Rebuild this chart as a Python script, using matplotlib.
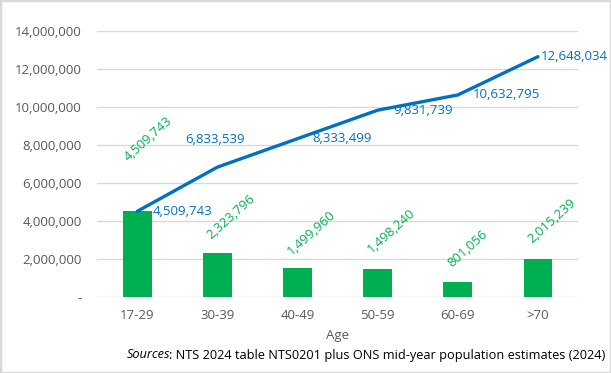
import matplotlib
matplotlib.use("Agg")
import matplotlib.pyplot as plt
from matplotlib.patches import Rectangle
from matplotlib.ticker import FuncFormatter

categories = ["17-29", "30-39", "40-49", "50-59", "60-69", ">70"]
bar_values = [4509743, 2323796, 1499960, 1498240, 801056, 2015239]
line_values = [4509743, 6833539, 8333499, 9831739, 10632795, 12648034]
y_ticks = [0, 2000000, 4000000, 6000000, 8000000, 10000000, 12000000, 14000000]

GREEN = "#00B050"
BLUE = "#0070C0"
GRAY = "#595959"
FONT = "Open Sans"
FS = 9.5

plt.rcParams["font.family"] = [FONT, "DejaVu Sans"]

fig = plt.figure(figsize=(6.11, 3.73), dpi=100)
ax = fig.add_axes([0.159, 0.2038, 0.787, 0.7131])

x = list(range(len(categories)))
ax.bar(x, bar_values, width=0.36, color=GREEN, zorder=2)
ax.plot(x, line_values, color=BLUE, lw=2.4, zorder=3, solid_capstyle="round", solid_joinstyle="round")

ax.set_xlim(-0.5, len(categories) - 0.5)
ax.set_ylim(0, 14000000)
ax.set_yticks(y_ticks)
ax.yaxis.set_major_formatter(FuncFormatter(lambda v, p: "-" if v == 0 else f"{int(v):,}"))
ax.set_xticks(x)
ax.set_xticklabels(categories)
ax.grid(axis="y", color="#d9d9d9", lw=1, zorder=0)
for s in ax.spines.values():
    s.set_visible(False)
ax.tick_params(axis="both", length=0, colors=GRAY, labelsize=FS)
ax.tick_params(axis="y", pad=11)
ax.tick_params(axis="x", pad=9)
ax.set_xlabel("Age", color=GRAY, fontsize=FS, labelpad=5)

# line labels (offsets in points)
line_offsets = [(11, 0), (-2, 20), (11, 0), (11, 0), (11, 0), (2, 0)]
for i, v in enumerate(line_values):
    dx, dy = line_offsets[i]
    ha = "center" if i == 1 else "left"
    ax.annotate(f"{v:,}", (i, v), xytext=(dx, dy), textcoords="offset points",
                ha=ha, va="center", color=BLUE, fontsize=FS, zorder=4)

# bar labels rotated
bar_offsets = [(-5, 34), (-3, 8), (-3, 8), (-3, 9), (-3, 9), (-3, 9)]
for i, v in enumerate(bar_values):
    dx, dy = bar_offsets[i]
    ax.annotate(f"{v:,}", (i, v), xytext=(dx, dy), textcoords="offset points",
                ha="left", va="bottom", rotation=42, rotation_mode="anchor",
                color=GREEN, fontsize=FS, zorder=4)

# border
fig.patches.append(Rectangle((0, 0), 1, 1, transform=fig.transFigure, fill=False,
                             edgecolor="#d9d9d9", lw=2.5))

# source line
fig.canvas.draw()
r = fig.canvas.get_renderer()
t2 = fig.text(605 / 611, 1 - 355 / 373, ": NTS 2024 table NTS0201 plus ONS mid-year population estimates (2024)",
              ha="right", va="center", fontsize=9.2, color="black")
bb = t2.get_window_extent(renderer=r)
fig.text((bb.x0 + 1.5) / fig.bbox.width, 1 - 355 / 373, "Sources", ha="right", va="center",
         fontsize=9.2, style="italic", color="black")

fig.savefig("out.png", dpi=100)
